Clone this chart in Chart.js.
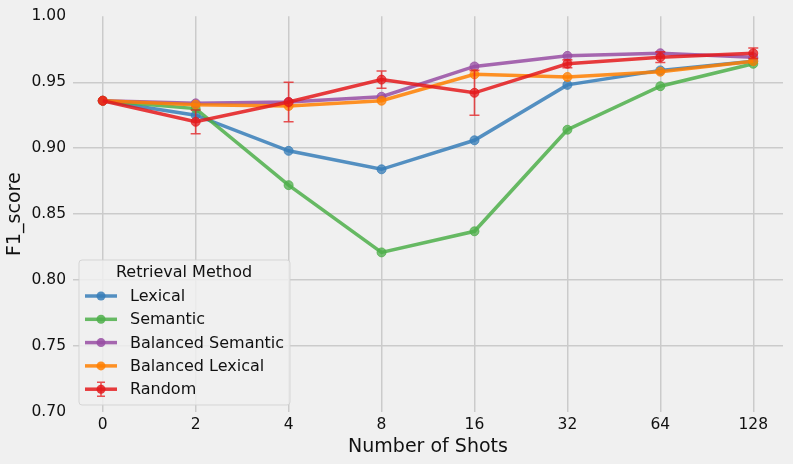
<!DOCTYPE html>
<html>
<head>
<meta charset="utf-8">
<script src="https://cdn.jsdelivr.net/npm/chart.js@4.4.1/dist/chart.umd.min.js"></script>
<style>
  html, body { margin: 0; padding: 0; background: #f0f0f0; }
  #wrap { width: 793px; height: 464px; }
</style>
</head>
<body>
<div id="wrap"><canvas id="myChart" width="793" height="464"></canvas></div>
<script>
// data
const xLabels = ['0', '2', '4', '8', '16', '32', '64', '128']
const lexical = [0.936, 0.925, 0.898, 0.884, 0.906, 0.948, 0.959, 0.966]
const semantic = [0.936, 0.930, 0.872, 0.821, 0.837, 0.914, 0.947, 0.964]
const balancedSemantic = [0.936, 0.934, 0.935, 0.939, 0.962, 0.970, 0.972, 0.969]
const balancedLexical = [0.936, 0.933, 0.932, 0.936, 0.956, 0.954, 0.958, 0.966]
const random = [0.936, 0.920, 0.935, 0.952, 0.942, 0.964, 0.969, 0.972]
const randomErr = [0, 0.009, 0.015, 0.0065, 0.017, 0.003, 0.004, 0.004]
const yTicks = [0.70, 0.75, 0.80, 0.85, 0.90, 0.95, 1.00]

const series = [
  { label: 'Lexical', values: lexical, color: [55, 126, 184] },
  { label: 'Semantic', values: semantic, color: [77, 175, 74] },
  { label: 'Balanced Semantic', values: balancedSemantic, color: [152, 78, 163] },
  { label: 'Balanced Lexical', values: balancedLexical, color: [255, 127, 0] },
  { label: 'Random', values: random, color: [228, 26, 28], err: randomErr }
]

const rgba = (c, a) => `rgba(${c[0]}, ${c[1]}, ${c[2]}, ${a})`
const font = "'DejaVu Sans', sans-serif"
const textColor = '#111111'

// error bars for the Random series
const errorBars = {
  id: 'errorBars',
  afterDatasetsDraw(chart) {
    const ctx = chart.ctx
    const xs = chart.scales.x
    const ys = chart.scales.y
    series.forEach(s => {
      if (!s.err) return
      ctx.save()
      ctx.strokeStyle = rgba(s.color, 0.75)
      ctx.lineWidth = 1.6
      s.values.forEach((v, i) => {
        const e = s.err[i]
        if (!e) return
        const px = xs.getPixelForValue(i)
        const top = ys.getPixelForValue(v + e)
        const bot = ys.getPixelForValue(v - e)
        ctx.beginPath()
        ctx.moveTo(px, top); ctx.lineTo(px, bot)
        ctx.moveTo(px - 5, top); ctx.lineTo(px + 5, top)
        ctx.moveTo(px - 5, bot); ctx.lineTo(px + 5, bot)
        ctx.stroke()
      })
      ctx.restore()
    })
  }
}

// legend box inside the plot, lower left
const insideLegend = {
  id: 'insideLegend',
  afterDraw(chart) {
    const ctx = chart.ctx
    const area = chart.chartArea
    const bx = area.left + 6
    const by = 260
    const bw = 211
    const bh = 145
    ctx.save()
    ctx.beginPath()
    ctx.roundRect(bx, by, bw, bh, 3)
    ctx.fillStyle = 'rgba(240, 240, 240, 0.85)'
    ctx.fill()
    ctx.strokeStyle = 'rgba(210, 210, 210, 0.9)'
    ctx.lineWidth = 1
    ctx.stroke()

    ctx.fillStyle = textColor
    ctx.font = `16px ${font}`
    ctx.textAlign = 'center'
    ctx.textBaseline = 'middle'
    ctx.fillText('Retrieval Method', bx + 105, by + 13)

    ctx.textAlign = 'left'
    series.forEach((s, i) => {
      const ry = by + 36 + i * 23.3
      const hx = bx + 22
      ctx.strokeStyle = rgba(s.color, 0.85)
      ctx.lineWidth = 3.5
      ctx.beginPath()
      ctx.moveTo(hx - 16, ry); ctx.lineTo(hx + 16, ry)
      ctx.stroke()
      if (s.err) {
        ctx.lineWidth = 1.6
        ctx.strokeStyle = rgba(s.color, 0.75)
        ctx.beginPath()
        ctx.moveTo(hx, ry - 7); ctx.lineTo(hx, ry + 7)
        ctx.moveTo(hx - 4, ry - 7); ctx.lineTo(hx + 4, ry - 7)
        ctx.moveTo(hx - 4, ry + 7); ctx.lineTo(hx + 4, ry + 7)
        ctx.stroke()
      }
      ctx.fillStyle = rgba(s.color, 0.85)
      ctx.beginPath()
      ctx.arc(hx, ry, 4.5, 0, Math.PI * 2)
      ctx.fill()
      ctx.fillStyle = textColor
      ctx.fillText(s.label, bx + 51, ry + 1)
    })
    ctx.restore()
  }
}

const bgPlugin = {
  id: 'bg',
  beforeDraw(chart) {
    const ctx = chart.ctx
    ctx.save()
    ctx.fillStyle = '#f0f0f0'
    ctx.fillRect(0, 0, chart.width, chart.height)
    ctx.restore()
  }
}

const datasets = series.map((s, i) => ({
  label: s.label,
  data: s.values.map((v, j) => ({ x: j, y: v })),
  borderColor: rgba(s.color, 0.85),
  backgroundColor: rgba(s.color, 0.85),
  pointBackgroundColor: rgba(s.color, 0.75),
  pointBorderColor: rgba(s.color, 0.75),
  borderWidth: 3.5,
  pointRadius: 4.5,
  pointBorderWidth: 1,
  tension: 0,
  order: series.length - i
}))

const ctx = document.getElementById('myChart').getContext('2d')
const chart = new Chart(ctx, {
  type: 'line',
  data: { datasets: datasets },
  plugins: [bgPlugin, errorBars, insideLegend],
  options: {
    responsive: false,
    animation: false,
    events: [],
    layout: { padding: { top: 14, right: 10, left: 0, bottom: 0 } },
    plugins: {
      legend: { display: false },
      tooltip: { enabled: false }
    },
    scales: {
      x: {
        type: 'linear',
        min: -0.32,
        max: 7.32,
        afterBuildTicks: scale => { scale.ticks = xLabels.map((_, i) => ({ value: i })) },
        afterFit: scale => { scale.height = 52 },
        border: { display: false },
        grid: { color: '#cbcbcb', lineWidth: 1.5, drawTicks: false },
        ticks: {
          color: textColor,
          font: { family: font, size: 15.5 },
          padding: 4,
          maxRotation: 0,
          callback: v => xLabels[v]
        },
        title: {
          display: true,
          text: 'Number of Shots',
          color: textColor,
          font: { family: font, size: 19 },
          padding: { top: 0, bottom: 6 }
        }
      },
      y: {
        min: 0.70,
        max: 1.00,
        afterBuildTicks: scale => { scale.ticks = yTicks.map(v => ({ value: v })) },
        afterFit: scale => { scale.width = 73 },
        border: { display: false },
        grid: {
          color: c => (c.tick && (c.tick.value <= 0.701 || c.tick.value >= 0.999)) ? 'rgba(0,0,0,0)' : '#cbcbcb',
          lineWidth: 1.5,
          drawTicks: false
        },
        ticks: {
          color: textColor,
          font: { family: font, size: 15.5 },
          padding: 7,
          callback: v => v.toFixed(2)
        },
        title: {
          display: true,
          text: 'F1_score',
          color: textColor,
          font: { family: font, size: 19 },
          padding: { top: 4, bottom: 0 }
        }
      }
    }
  }
})
</script>
</body>
</html>
